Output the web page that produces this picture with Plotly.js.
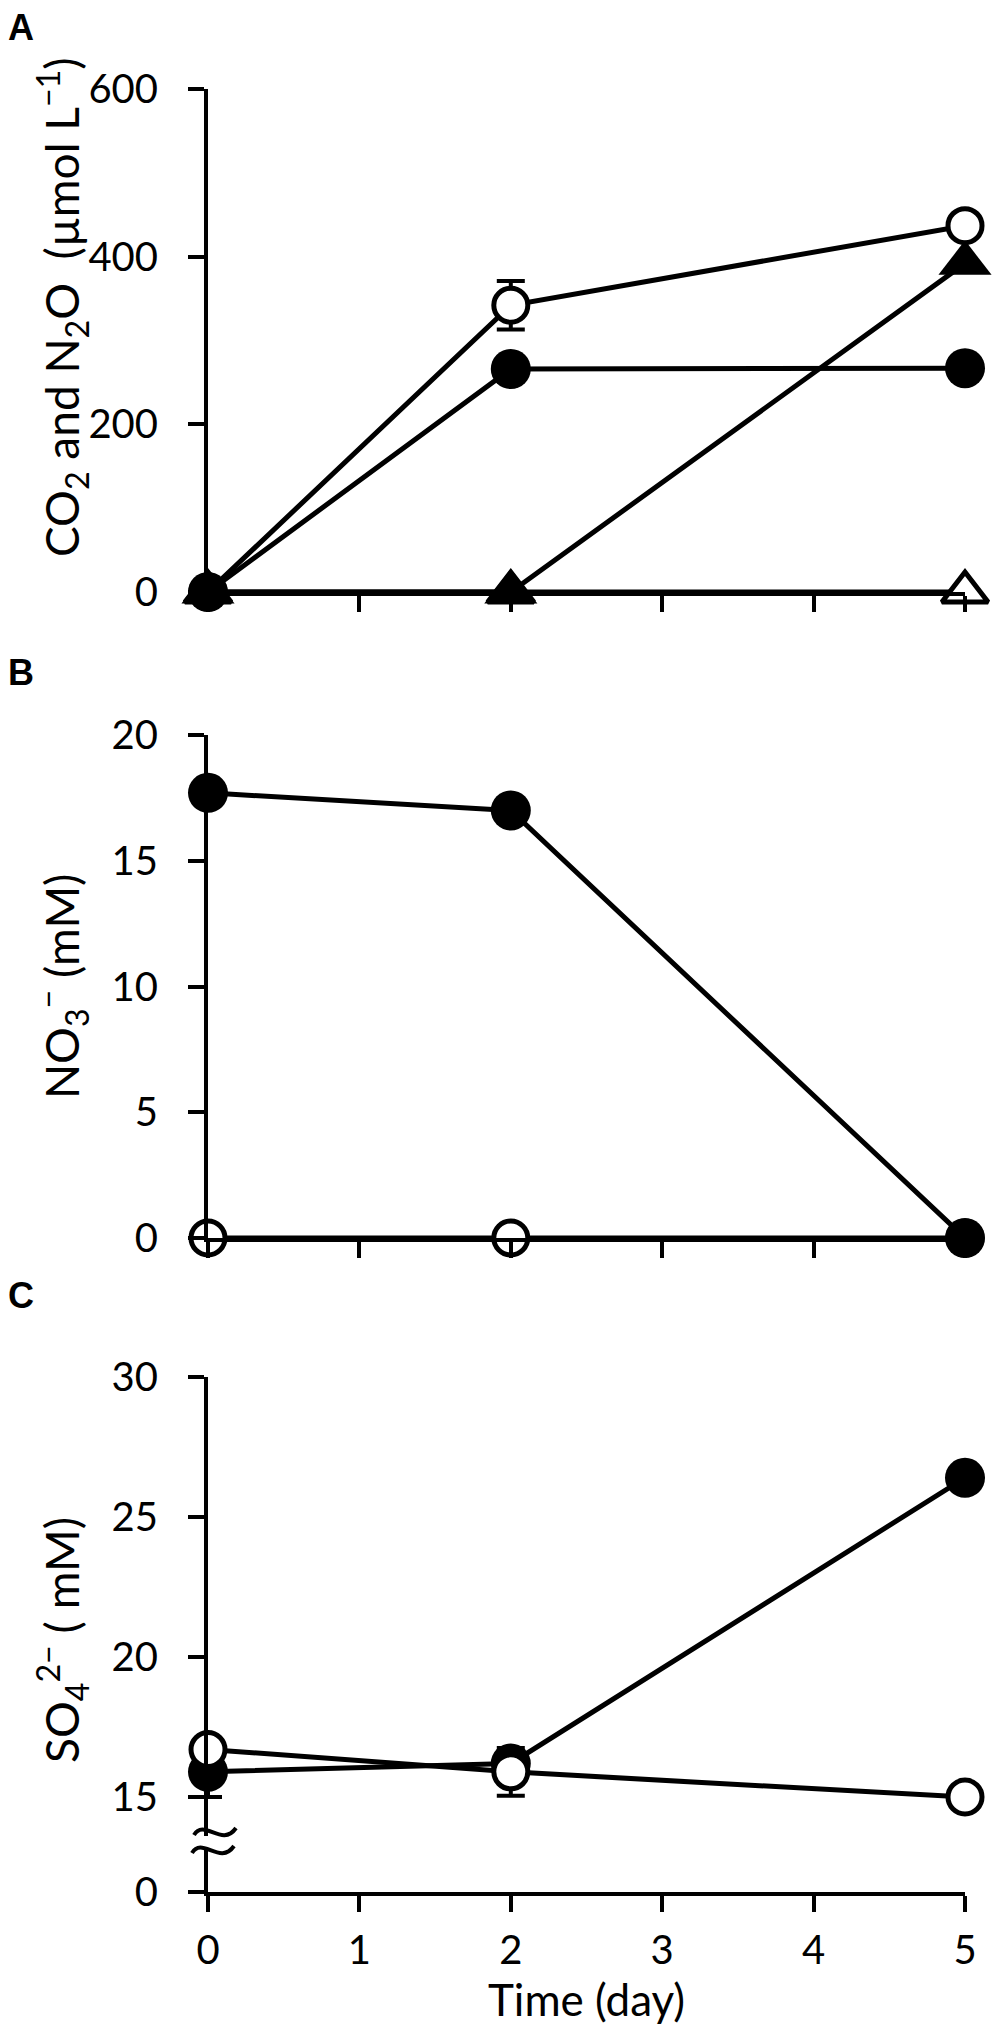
<!DOCTYPE html>
<html>
<head>
<meta charset="utf-8">
<script src="https://cdn.plot.ly/plotly-3.0.1.min.js"></script>
<style>html,body{margin:0;padding:0;background:#fff;}#chart{width:1000px;height:2027px;}</style>
</head>
<body>
<div id="chart"></div>
<script>
// ---- data ----
const days = [0, 2, 5];
const xTickVals = [0, 1, 2, 3, 4, 5];
const xTickText = ['0', '1', '2', '3', '4', '5'];

// Panel A: CO2 and N2O (µmol L-1)
const A_openTriangle = [0, 0, 0];
const A_filledTriangle = [0, 0, 392];
const A_filledCircle = [0, 266, 267];
const A_openCircle = [0, 342, 437];
const A_openCircleErr = [0, 29, 0];
const A_yTicks = [0, 200, 400, 600];

// Panel B: NO3- (mM)
const B_openCircle = [0, 0, 0];
const B_filledCircle = [17.7, 17.0, 0];
const B_yTicks = [0, 5, 10, 15, 20];

// Panel C: SO4 2- (mM), broken axis
const C_filledCircle = [15.9, 16.2, 26.4];
const C_filledCircleErr = [0.9, 0, 0];
const C_openCircle = [16.7, 15.9, 15.0];
const C_openCircleErr = [0, 0.85, 0];
const C_breakZero = 11.61;   // axis position standing in for "0" below the break
const C_yTickVals = [C_breakZero, 15, 20, 25, 30];
const C_yTickText = ['0', '15', '20', '25', '30'];

// axis titles
const A_title = 'CO<sub>2</sub> and N<sub>2</sub>O  (µmol L<sup>−1</sup>)';
const B_title = 'NO<sub>3</sub><sup>−</sup> (mM)';
const C_title = 'SO<sub>4</sub><sup>2−</sup> ( mM)';
const X_title = 'Time (day)';

// ---- layout geometry (pixels) ----
const W = 1000, H = 2027, L = 208, R = 35, T = 89, B = 135;
const PW = W - L - R, PH = H - T - B;
const px = p => (p - L) / PW;
const py = p => (H - B - p) / PH;

const FONT = 'Lato';
const LW = 5;

function line(x, y, xa, ya, filled, symbol, size, err) {
  const t = {
    x: x, y: y, xaxis: xa, yaxis: ya, type: 'scatter', mode: 'lines+markers',
    cliponaxis: false, showlegend: false, hoverinfo: 'skip',
    line: {color: '#000', width: LW},
    marker: {symbol: symbol, size: size, color: filled ? '#000' : '#fff',
             line: {color: '#000', width: filled ? 0 : LW}}
  };
  if (err) t.error_y = {type: 'data', array: err, visible: true, color: '#000', thickness: 4, width: 14};
  return t;
}

const traces = [
  line(days, A_openTriangle, 'x', 'y', false, 'triangle-up', 40),
  line(days, A_openCircle, 'x', 'y', false, 'circle', 34, A_openCircleErr),
  line(days, A_filledCircle, 'x', 'y', true, 'circle', 40),
  line(days, A_filledTriangle, 'x', 'y', true, 'triangle-up', 46),
  line(days, B_openCircle, 'x2', 'y2', false, 'circle', 34),
  line(days, B_filledCircle, 'x2', 'y2', true, 'circle', 40),
  line(days, C_filledCircle, 'x3', 'y3', true, 'circle', 40, C_filledCircleErr),
  line(days, C_openCircle, 'x3', 'y3', false, 'circle', 34, C_openCircleErr)
];

const tickFont = {family: FONT, size: 40, color: '#000'};
function xAxis(anchor, labels) {
  return {
    anchor: anchor, domain: [0, 1], range: [0, 5], fixedrange: true,
    tickvals: xTickVals, ticktext: xTickText, showticklabels: labels,
    ticks: 'outside', ticklen: 16, tickwidth: 4, tickcolor: '#000',
    showline: true, linewidth: 4, linecolor: '#000',
    showgrid: false, zeroline: false, automargin: false,
    tickfont: tickFont, ticklabelstandoff: 4
  };
}
function yAxis(anchor, dom, range, vals, text) {
  const a = {
    anchor: anchor, domain: dom, range: range, fixedrange: true,
    tickvals: vals, ticks: 'outside', ticklen: 16, tickwidth: 4, tickcolor: '#000',
    showline: true, linewidth: 4, linecolor: '#000',
    showgrid: false, zeroline: false, automargin: false,
    tickfont: tickFont, ticklabelstandoff: 22
  };
  if (text) a.ticktext = text;
  return a;
}

const xa3 = xAxis('y3', true);
xa3.title = {text: X_title, font: {family: FONT, size: 44, color: '#000'}, standoff: 6};

const titleFont = {family: FONT, size: 46, color: '#000'};
const panelFont = {family: 'Liberation Sans', size: 36, color: '#000'};
function ann(text, xp, yp, opts) {
  return Object.assign({text: text, xref: 'paper', yref: 'paper', x: px(xp), y: py(yp),
    showarrow: false, xanchor: 'center', yanchor: 'middle'}, opts || {});
}

const layout = {
  width: W, height: H, margin: {l: L, r: R, t: T, b: B},
  paper_bgcolor: '#fff', plot_bgcolor: '#fff', showlegend: false,
  font: {family: FONT, size: 40, color: '#000'},
  xaxis: xAxis('y', false),
  yaxis: yAxis('x', [py(592), py(89)], [0, 600], A_yTicks),
  xaxis2: xAxis('y2', false),
  yaxis2: yAxis('x2', [py(1238), py(735)], [0, 20], B_yTicks),
  xaxis3: xa3,
  yaxis3: yAxis('x3', [py(1892), py(1377)], [C_breakZero, 30], C_yTickVals, C_yTickText),
  annotations: [
    ann('<b>A</b>', 6, 27, {xanchor: 'left', font: panelFont}),
    ann('<b>B</b>', 6, 672, {xanchor: 'left', font: panelFont}),
    ann('<b>C</b>', 6, 1295, {xanchor: 'left', font: panelFont}),
    ann(A_title, 62, 307, {textangle: -90, font: titleFont}),
    ann(B_title, 62, 987, {textangle: -90, font: titleFont}),
    ann(C_title, 62, 1640, {textangle: -90, font: titleFont})
  ],
  shapes: [
    {type: 'rect', xref: 'paper', yref: 'paper', x0: px(199), x1: px(217), y0: py(1848), y1: py(1836),
     fillcolor: '#fff', line: {width: 0}, layer: 'above'},
    {type: 'path', xref: 'paper', yref: 'paper', layer: 'above', line: {color: '#000', width: 4},
     path: `M ${px(194)},${py(1835)} C ${px(204)},${py(1818)} ${px(222)},${py(1848)} ${px(236)},${py(1828)}`},
    {type: 'path', xref: 'paper', yref: 'paper', layer: 'above', line: {color: '#000', width: 4},
     path: `M ${px(192)},${py(1853)} C ${px(202)},${py(1836)} ${px(220)},${py(1866)} ${px(234)},${py(1846)}`}
  ]
};

Plotly.newPlot('chart', traces, layout, {staticPlot: true, displayModeBar: false});
</script>
</body>
</html>
